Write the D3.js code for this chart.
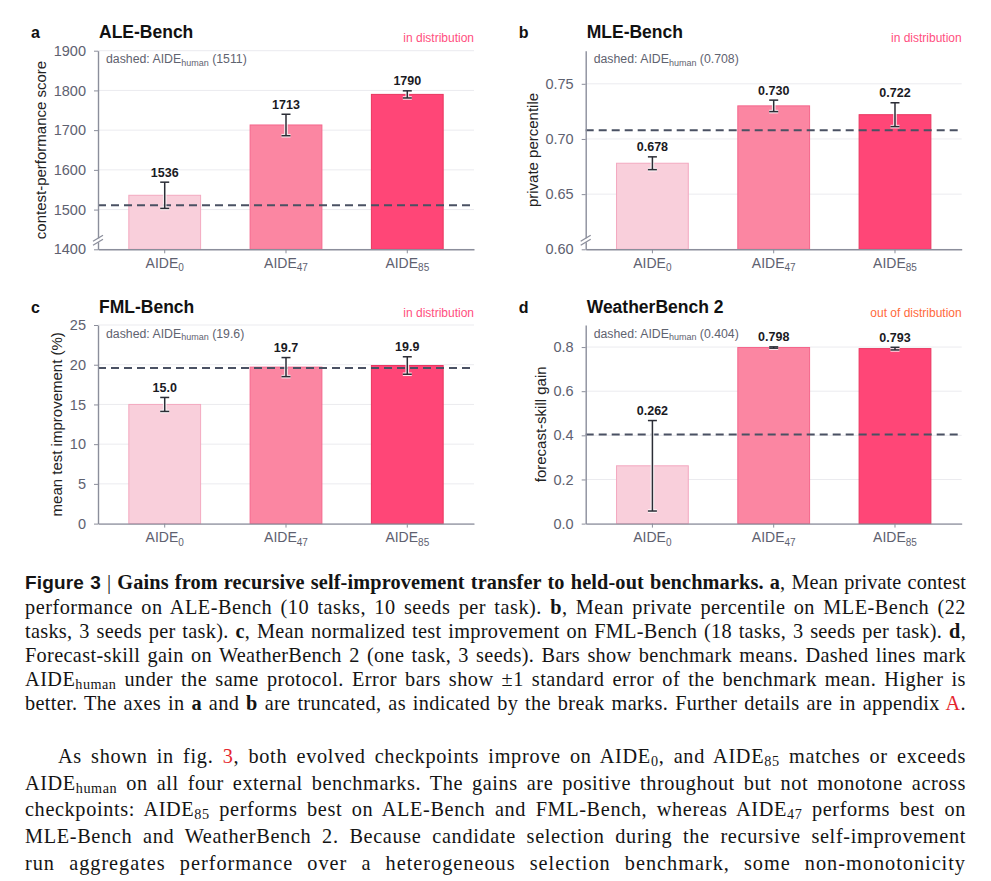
<!DOCTYPE html>
<html>
<head>
<meta charset="utf-8">
<script src="https://cdn.jsdelivr.net/npm/d3@7"></script>
<style>
  body { margin: 0; background: #fff; width: 991px; height: 881px; overflow: hidden; position: relative; }
  svg { position: absolute; left: 0; top: 0; }
  svg text { font-family: "Liberation Sans", Arial, sans-serif; }
  .txt { position: absolute; left: 25px; width: 941px; font-family: "Liberation Serif", serif; font-size: 20.3px; color: #141414; }
  .txt div { text-align: justify; text-align-last: justify; }
  .cap { top: 570px; line-height: 24px; }
  .body { top: 743px; line-height: 26.7px; }
  .txt sub { font-size: 0.7em; vertical-align: -0.22em; line-height: 0; }
  .fig { font-family: "Liberation Sans", Arial, sans-serif; font-weight: bold; font-size: 19px; }
  .red { color: #e5262d; }
</style>
</head>
<body>
<svg id="chart" width="991" height="560"></svg>

<div class="txt cap">
  <div><span class="fig">Figure 3</span> | <b>Gains from recursive self-improvement transfer to held-out benchmarks.</b> <b>a</b>, Mean private contest</div>
  <div>performance on ALE-Bench (10 tasks, 10 seeds per task). <b>b</b>, Mean private percentile on MLE-Bench (22</div>
  <div>tasks, 3 seeds per task). <b>c</b>, Mean normalized test improvement on FML-Bench (18 tasks, 3 seeds per task). <b>d</b>,</div>
  <div>Forecast-skill gain on WeatherBench 2 (one task, 3 seeds). Bars show benchmark means. Dashed lines mark</div>
  <div>AIDE<sub>human</sub> under the same protocol. Error bars show ±1 standard error of the benchmark mean. Higher is</div>
  <div>better. The axes in <b>a</b> and <b>b</b> are truncated, as indicated by the break marks. Further details are in appendix <span class="red">A</span>.</div>
</div>

<div class="txt body">
  <div style="text-indent:33px">As shown in fig. <span class="red">3</span>, both evolved checkpoints improve on AIDE<sub>0</sub>, and AIDE<sub>85</sub> matches or exceeds</div>
  <div>AIDE<sub>human</sub> on all four external benchmarks. The gains are positive throughout but not monotone across</div>
  <div>checkpoints: AIDE<sub>85</sub> performs best on ALE-Bench and FML-Bench, whereas AIDE<sub>47</sub> performs best on</div>
  <div>MLE-Bench and WeatherBench 2. Because candidate selection during the recursive self-improvement</div>
  <div>run aggregates performance over a heterogeneous selection benchmark, some non-monotonicity</div>
</div>

<script>
// checkpoints (subscript of AIDE)
const models = ['0', '47', '85'];

// a: ALE-Bench
const aleMeans = [1536, 1713, 1790];
const aleErrs = [33, 27, 9];
const aleHuman = 1511;
const aleDomain = [1400, 1900];
const aleTicks = [1400, 1500, 1600, 1700, 1800, 1900];

// b: MLE-Bench
const mleMeans = [0.678, 0.730, 0.722];
const mleErrs = [0.0058, 0.0052, 0.0108];
const mleHuman = 0.708;
const mleDomain = [0.60, 0.78];
const mleTicks = [0.60, 0.65, 0.70, 0.75];

// c: FML-Bench
const fmlMeans = [15.0, 19.7, 19.9];
const fmlErrs = [0.88, 1.2, 1.1];
const fmlHuman = 19.6;
const fmlDomain = [0, 25];
const fmlTicks = [0, 5, 10, 15, 20, 25];

// d: WeatherBench 2
const wbMeans = [0.262, 0.798, 0.793];
const wbErrs = [0.205, 0.003, 0.006];
const wbHuman = 0.404;
const wbDomain = [0, 0.9];
const wbTicks = [0.0, 0.2, 0.4, 0.6, 0.8];

const FILL = ['#f9cfdb', '#fb86a2', '#ff4677'];
const EDGE = ['#f3a9c0', '#f4668c', '#e9355f'];
const AXIS = '#8b8e9b';
const TICKTXT = '#5e6170';
const PW = 376, PH = 198.6;

const svg = d3.select('#chart');

const panels = [
  { letter: 'a', title: 'ALE-Bench', tag: 'in distribution', tagColor: '#ff4f80', ylab: 'contest-performance score',
    means: aleMeans, errs: aleErrs, human: aleHuman, domain: aleDomain, ticks: aleTicks,
    tickFmt: 'd', valFmt: 'd', humanFmt: 'd', broken: true, left: 98, top: 50.7 },
  { letter: 'b', title: 'MLE-Bench', tag: 'in distribution', tagColor: '#ff4f80', ylab: 'private percentile',
    means: mleMeans, errs: mleErrs, human: mleHuman, domain: mleDomain, ticks: mleTicks,
    tickFmt: '.2f', valFmt: '.3f', humanFmt: '.3f', broken: true, left: 585.7, top: 50.7 },
  { letter: 'c', title: 'FML-Bench', tag: 'in distribution', tagColor: '#ff4f80', ylab: 'mean test improvement (%)',
    means: fmlMeans, errs: fmlErrs, human: fmlHuman, domain: fmlDomain, ticks: fmlTicks,
    tickFmt: 'd', valFmt: '.1f', humanFmt: '.1f', broken: false, left: 98, top: 325 },
  { letter: 'd', title: 'WeatherBench 2', tag: 'out of distribution', tagColor: '#ff6a3c', ylab: 'forecast-skill gain',
    means: wbMeans, errs: wbErrs, human: wbHuman, domain: wbDomain, ticks: wbTicks,
    tickFmt: '.1f', valFmt: '.3f', humanFmt: '.3f', broken: false, left: 585.7, top: 325 },
];

function drawPanel(p) {
  const g = svg.append('g');
  const bottom = p.top + PH;
  const x = d3.scaleBand().domain(models).range([p.left, p.left + PW]).paddingInner(0.4).paddingOuter(0.25);
  const y = d3.scaleLinear().domain(p.domain).range([bottom, p.top]);

  // gridlines
  g.selectAll('line.grid').data(p.ticks).join('line')
    .attr('class', 'grid')
    .attr('x1', p.left).attr('x2', p.left + PW)
    .attr('y1', d => y(d)).attr('y2', d => y(d))
    .attr('stroke', '#ebebef').attr('stroke-width', 1);

  // bars
  g.selectAll('rect.bar').data(p.means).join('rect')
    .attr('class', 'bar')
    .attr('x', (d, i) => x(models[i]) + 0.5)
    .attr('width', x.bandwidth() - 1)
    .attr('y', d => y(d))
    .attr('height', d => bottom - y(d))
    .attr('fill', (d, i) => FILL[i])
    .attr('stroke', (d, i) => EDGE[i]).attr('stroke-width', 1);

  // human reference
  g.append('line')
    .attr('x1', p.left).attr('x2', p.left + PW)
    .attr('y1', y(p.human)).attr('y2', y(p.human))
    .attr('stroke', '#4a5163').attr('stroke-width', 2).attr('stroke-dasharray', '8,5');

  // error bars: white halo then dark line
  const cx = i => x(models[i]) + x.bandwidth() / 2;
  [['#ffffff', 3.6, 0.85], ['#2b2d36', 1.5, 1]].forEach(([col, w, op]) => {
    const eg = g.append('g').attr('stroke', col).attr('stroke-width', w).attr('opacity', op);
    p.means.forEach((m, i) => {
      const y1 = y(m + p.errs[i]), y2 = y(m - p.errs[i]);
      eg.append('line').attr('x1', cx(i)).attr('x2', cx(i)).attr('y1', y1).attr('y2', y2);
      eg.append('line').attr('x1', cx(i) - 4.5).attr('x2', cx(i) + 4.5).attr('y1', y1).attr('y2', y1);
      eg.append('line').attr('x1', cx(i) - 4.5).attr('x2', cx(i) + 4.5).attr('y1', y2).attr('y2', y2);
    });
  });

  // value labels
  g.selectAll('text.val').data(p.means).join('text')
    .attr('class', 'val')
    .attr('x', (d, i) => cx(i))
    .attr('y', (d, i) => Math.min(y(d), y(d + p.errs[i])) - 5.5)
    .attr('text-anchor', 'middle')
    .attr('font-size', 12.5).attr('font-weight', 'bold').attr('fill', '#1a1a1f')
    .text(d => d3.format(p.valFmt)(d));

  // y axis
  const ya = g.append('g').attr('transform', `translate(${p.left},0)`)
    .call(d3.axisLeft(y).tickValues(p.ticks).tickFormat(d3.format(p.tickFmt)).tickSize(4).tickPadding(8).tickSizeOuter(0));
  ya.select('.domain').attr('stroke', AXIS).attr('stroke-width', 1.4);
  ya.selectAll('.tick line').attr('stroke', AXIS);
  ya.selectAll('.tick text').attr('fill', TICKTXT).attr('font-size', 14.5).attr('font-family', null);

  // x axis
  const xa = g.append('g').attr('transform', `translate(0,${bottom})`)
    .call(d3.axisBottom(x).tickSize(4).tickSizeOuter(0));
  xa.select('.domain').attr('stroke', AXIS).attr('stroke-width', 1.4);
  xa.selectAll('.tick line').attr('stroke', AXIS);
  xa.selectAll('.tick text').each(function (d) {
    const t = d3.select(this).attr('y', 18.7).attr('dy', null)
      .attr('fill', TICKTXT).attr('font-size', 14).attr('font-family', null).text(null);
    t.append('tspan').text('AIDE');
    t.append('tspan').attr('font-size', 10).attr('dy', 3.5).text(d);
  });

  // break marks on truncated axes
  if (p.broken) {
    g.append('rect').attr('x', p.left - 1.5).attr('y', bottom - 11).attr('width', 3).attr('height', 4).attr('fill', '#fff');
    [0, 4].forEach(o => {
      g.append('line')
        .attr('x1', p.left - 5).attr('y1', bottom - 4 - o)
        .attr('x2', p.left + 5).attr('y2', bottom - 10 - o)
        .attr('stroke', AXIS).attr('stroke-width', 1.3);
    });
  }

  // y label placed left of tick labels
  const tb = ya.node().getBBox();
  g.append('text')
    .attr('transform', `translate(${p.left + tb.x - 7.5},${p.top + PH / 2}) rotate(-90)`)
    .attr('text-anchor', 'middle')
    .attr('font-size', 15).attr('fill', '#222')
    .text(p.ylab);

  // titles
  g.append('text').attr('x', p.left - 67).attr('y', p.top - 12.5)
    .attr('font-size', 16).attr('font-weight', 'bold').attr('fill', '#111').text(p.letter);
  g.append('text').attr('x', p.left + 1).attr('y', p.top - 12.5)
    .attr('font-size', 17.5).attr('font-weight', 'bold').attr('fill', '#111').text(p.title);
  g.append('text').attr('x', p.left + PW).attr('y', p.top - 8.5)
    .attr('text-anchor', 'end').attr('font-size', 12).attr('fill', p.tagColor).text(p.tag);

  // dashed note
  const note = g.append('text').attr('x', p.left + 8).attr('y', p.top + 12.5)
    .attr('font-size', 12.3).attr('fill', '#5f6370');
  note.append('tspan').text('dashed: AIDE');
  note.append('tspan').attr('font-size', 9).attr('dy', 2.5).text('human');
  note.append('tspan').attr('dy', -2.5).text(` (${d3.format(p.humanFmt)(p.human)})`);
}

panels.forEach(drawPanel);

// widen the serif text a little so justified lines don't open huge word gaps
d3.selectAll('.txt div').each(function () {
  const el = this;
  el.style.textAlign = 'left';
  el.style.textAlignLast = 'left';
  const r = document.createRange();
  r.selectNodeContents(el);
  const w = r.getBoundingClientRect().width;
  const indent = parseFloat(el.style.textIndent) || 0;
  const chars = el.textContent.trim().replace(/\s+/g, ' ').length;
  const ls = Math.max(0, (941 - indent - w) * 0.55 / chars);
  el.style.letterSpacing = ls.toFixed(3) + 'px';
  el.style.textAlign = '';
  el.style.textAlignLast = '';
});
</script>
</body>
</html>
